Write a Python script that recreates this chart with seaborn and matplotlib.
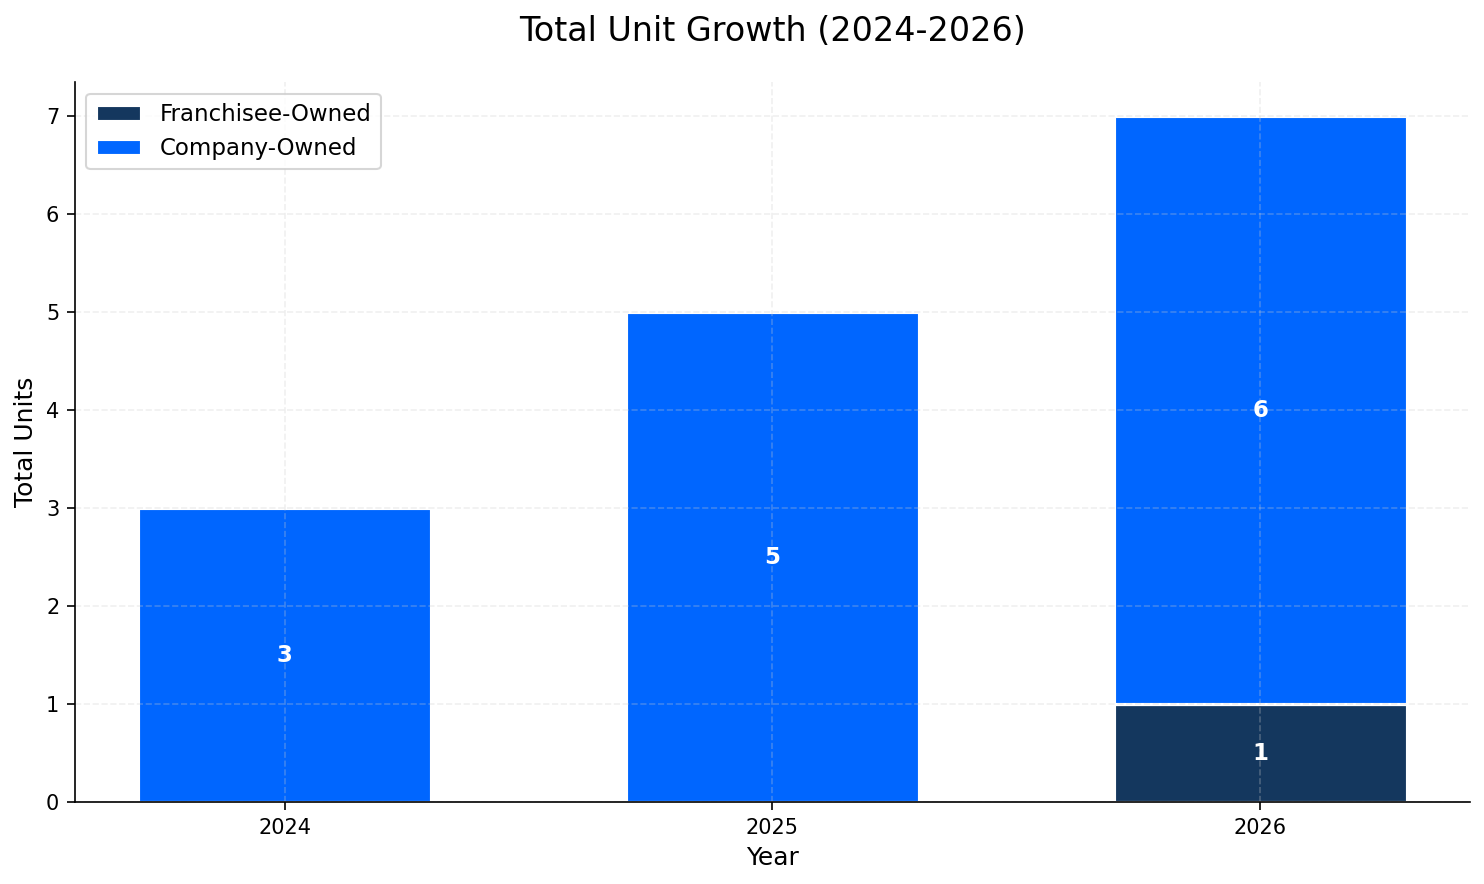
import numpy as np
import pandas as pd
import matplotlib
matplotlib.use('Agg')
import matplotlib.pyplot as plt
import seaborn as sns

years = ['2024', '2025', '2026']
franchisee = [0, 0, 1]
company = [3, 5, 6]

FRANCHISE_COLOR = '#14375E'
COMPANY_COLOR = '#0066FF'

sns.set_style('white', {'axes.edgecolor': 'black', 'text.color': 'black',
                        'axes.labelcolor': 'black', 'xtick.color': 'black',
                        'ytick.color': 'black'})
plt.rcParams['font.family'] = ['DejaVu Sans']

fig, ax = plt.subplots(figsize=(1484 / 150, 884 / 150), dpi=150)
fig.subplots_adjust(left=0.0505, right=0.9906, top=0.907, bottom=0.0928)

df = pd.DataFrame({'Year': years, 'Franchisee': franchisee, 'Company': company})

sns.barplot(data=df, x='Year', y='Franchisee', color=FRANCHISE_COLOR, width=0.6,
            edgecolor='white', linewidth=1.5, label='Franchisee-Owned', ax=ax,
            saturation=1)
sns.barplot(data=df, x='Year', y='Company', color=COMPANY_COLOR, width=0.6,
            bottom=df['Franchisee'], edgecolor='white', linewidth=1.5,
            label='Company-Owned', ax=ax, saturation=1)

# value labels in the middle of each segment
for i in range(len(years)):
    if franchisee[i] > 0:
        ax.text(i, franchisee[i] / 2, str(franchisee[i]), ha='center', va='center',
                color='white', fontweight='bold', fontsize=11)
    if company[i] > 0:
        ax.text(i, franchisee[i] + company[i] / 2, str(company[i]), ha='center',
                va='center', color='white', fontweight='bold', fontsize=11)

ax.set_xlim(-0.43, 2.43)
ax.set_ylim(0, 7.35)
ax.set_axisbelow(False)
ax.grid(True, linestyle='--', alpha=0.3, color='#cccccc', linewidth=0.8)

sns.despine(ax=ax)
for sp in ax.spines.values():
    sp.set_zorder(5)
ax.tick_params(axis='both', which='both', length=4, labelsize=10, bottom=True, left=True,
               colors='black')
ax.set_xlabel('Year', fontsize=12)
ax.set_ylabel('Total Units', fontsize=12)
ax.set_title('Total Unit Growth (2024-2026)', fontsize=16, pad=20)
ax.legend(loc='upper left', fontsize=11, frameon=True)

plt.savefig('out.png', dpi=150)
